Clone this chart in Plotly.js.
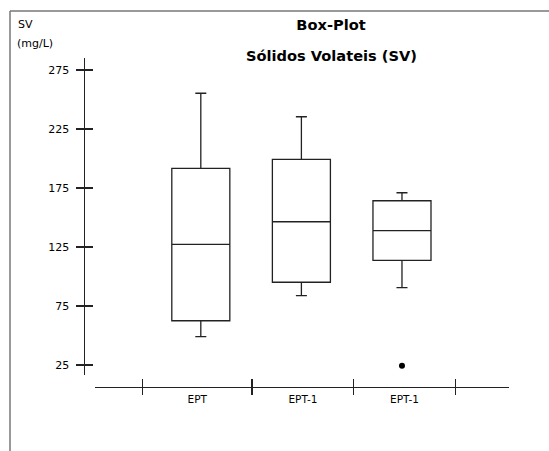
<!DOCTYPE html>
<html>
<head>
<meta charset="utf-8">
<script src="https://cdn.plot.ly/plotly-3.0.1.min.js"></script>
<style>html,body{margin:0;padding:0;background:#fff;}#chart{width:549px;height:451px;}</style>
</head>
<body>
<div id="chart"></div>
<script>
// ---- data ----
const categories = ['EPT', 'EPT-1', 'EPT-1'];
const groupIndex = [1, 2, 3];
const lowerWhisker = [49, 83.7, 90.5];
const q1Values = [62.5, 95.1, 113.7];
const medianValues = [127.3, 146.4, 138.8];
const q3Values = [191.7, 199.3, 164.2];
const upperWhisker = [255.3, 235.4, 171];
const outlierGroup = [3];
const outlierValues = [24.4];
const yTickValues = [25, 75, 125, 175, 225, 275];

// ---- layout helpers ----
const W = 549, H = 451;
const px = v => v / W;
const py = v => (H - v) / H;
const xRange = [-0.052, 4.064];
const yRange = [16.5, 285.2];
const boundaries = [0.42, 1.51, 2.52, 3.53];
const labelPos = categories.map((c, i) => (boundaries[i] + boundaries[i + 1]) / 2);
const axisFont = {family: 'DejaVu Sans, Arial, sans-serif', size: 11, color: '#000'};

const traces = [
  {
    type: 'box',
    x: groupIndex,
    q1: q1Values,
    median: medianValues,
    q3: q3Values,
    lowerfence: lowerWhisker,
    upperfence: upperWhisker,
    width: 0.577,
    whiskerwidth: 0.19,
    boxpoints: false,
    fillcolor: 'rgba(255,255,255,0)',
    line: {color: '#222', width: 1.3},
    hoverinfo: 'skip',
    showlegend: false,
    xaxis: 'x', yaxis: 'y'
  },
  {
    type: 'scatter', mode: 'markers',
    x: outlierGroup, y: outlierValues,
    marker: {color: '#000', size: 6},
    showlegend: false, xaxis: 'x', yaxis: 'y'
  },
  {type: 'scatter', mode: 'markers', x: [groupIndex[0]], y: [yTickValues[0]], marker: {opacity: 0}, showlegend: false, hoverinfo: 'skip', xaxis: 'x2', yaxis: 'y2'},
  {type: 'scatter', mode: 'markers', x: [groupIndex[0]], y: [yTickValues[0]], marker: {opacity: 0}, showlegend: false, hoverinfo: 'skip', xaxis: 'x3', yaxis: 'y'}
];

const xDomain = [px(95), px(509)];
const yDomain = [py(375), py(58)];
const xPosition = py(387);
const yPosition = px(83.5);

const layout = {
  width: W, height: H,
  margin: {l: 0, r: 0, t: 0, b: 0},
  paper_bgcolor: '#fff', plot_bgcolor: 'rgba(0,0,0,0)',
  showlegend: false,
  title: {
    text: 'Box-Plot',
    font: {family: 'DejaVu Sans, Arial, sans-serif', size: 14.6, color: '#000', weight: 'bold'},
    x: px(331), xref: 'paper', xanchor: 'center',
    y: py(25), yref: 'paper', yanchor: 'middle'
  },
  xaxis: {
    domain: xDomain, range: xRange, anchor: 'free', position: xPosition,
    showline: true, linecolor: '#222', linewidth: 1.3,
    ticks: 'outside', ticklen: 7, tickwidth: 1.3, tickcolor: '#222',
    tickmode: 'array', tickvals: boundaries, ticktext: boundaries.map(() => ''),
    showgrid: false, zeroline: false, fixedrange: true
  },
  xaxis2: {
    domain: xDomain, range: xRange, anchor: 'free', position: xPosition, overlaying: 'x',
    showline: false, ticks: 'inside', ticklen: 8, tickwidth: 1.3, tickcolor: '#222',
    tickmode: 'array', tickvals: boundaries, showticklabels: false,
    showgrid: false, zeroline: false, fixedrange: true
  },
  xaxis3: {
    domain: xDomain, range: xRange, anchor: 'free', position: xPosition, overlaying: 'x',
    showline: false, ticks: '', tickmode: 'array', tickvals: labelPos, ticktext: categories,
    tickfont: {family: 'DejaVu Sans, Arial, sans-serif', size: 10.5, color: '#000'},
    ticklabelstandoff: 4,
    showgrid: false, zeroline: false, fixedrange: true
  },
  yaxis: {
    domain: yDomain, range: yRange, anchor: 'free', position: yPosition,
    showline: true, linecolor: '#222', linewidth: 1.3,
    ticks: 'outside', ticklen: 8, tickwidth: 1.3, tickcolor: '#222',
    tickmode: 'array', tickvals: yTickValues, ticktext: yTickValues.map(String),
    tickfont: axisFont, ticklabelstandoff: 4,
    showgrid: false, zeroline: false, fixedrange: true
  },
  yaxis2: {
    domain: yDomain, range: yRange, anchor: 'free', position: yPosition, overlaying: 'y',
    showline: false, ticks: 'inside', ticklen: 8, tickwidth: 1.3, tickcolor: '#222',
    tickmode: 'array', tickvals: yTickValues, showticklabels: false,
    showgrid: false, zeroline: false, fixedrange: true
  },
  shapes: [
    {type: 'line', xref: 'paper', yref: 'paper', x0: px(10), x1: 1, y0: py(11), y1: py(11), line: {color: '#777', width: 1.5}},
    {type: 'line', xref: 'paper', yref: 'paper', x0: px(10), x1: px(10), y0: 0, y1: py(11), line: {color: '#777', width: 1.5}}
  ],
  annotations: [
    {text: 'Sólidos Volateis (SV)', xref: 'paper', yref: 'paper', x: px(331), y: py(55), xanchor: 'center', yanchor: 'middle', showarrow: false,
     font: {family: 'DejaVu Sans, Arial, sans-serif', size: 14.6, color: '#000', weight: 'bold'}},
    {text: 'SV', xref: 'paper', yref: 'paper', x: px(16), y: py(25), xanchor: 'left', yanchor: 'middle', showarrow: false, font: axisFont},
    {text: '(mg/L)', xref: 'paper', yref: 'paper', x: px(15), y: py(43), xanchor: 'left', yanchor: 'middle', showarrow: false, font: axisFont}
  ]
};

Plotly.newPlot('chart', traces, layout, {staticPlot: true, displayModeBar: false});
</script>
</body>
</html>
